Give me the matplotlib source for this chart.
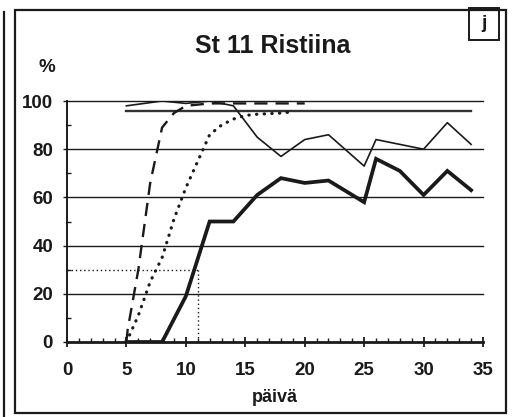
import matplotlib
matplotlib.use("Agg")
import matplotlib.pyplot as plt
from matplotlib.patches import Rectangle
from matplotlib.lines import Line2D
from matplotlib.ticker import MultipleLocator

plt.rcParams['font.family'] = ['Liberation Sans', 'DejaVu Sans']
plt.rcParams['font.weight'] = 'bold'

title = "St 11 Ristiina"
xlabel = "päivä"
ylabel = "%"
panel = "j"

# thick solid series
days_thick = [5, 8, 10, 12, 14, 16, 18, 20, 22, 25, 26, 28, 30, 32, 34]
vals_thick = [0, 0, 19, 50, 50, 61, 68, 66, 67, 58, 76, 71, 61, 71, 63]
# thin solid series
days_thin = [5, 8, 10, 12, 14, 16, 18, 20, 22, 25, 26, 28, 30, 32, 34]
vals_thin = [98, 100, 99, 100, 98, 85, 77, 84, 86, 73, 84, 82, 80, 91, 82]
# dashed series
days_dash = [5, 5.1, 6, 7, 8, 9, 10, 12, 14, 16, 18, 20]
vals_dash = [0, 5, 30, 66, 89, 95, 98, 99, 99, 99, 99, 99]
# dotted series
days_dot = [5, 6, 7, 8, 9, 10, 11, 12, 13, 14, 15, 16, 18, 19]
vals_dot = [0, 11, 25, 35, 51, 64, 75, 86, 90, 92.5, 94, 94.5, 95, 95.5]
# constant reference line
days_ref = [5, 34]
vals_ref = [96, 96]
# 30 % marker
mark_day = 11
mark_val = 30

xticks = [0, 5, 10, 15, 20, 25, 30, 35]
yticks = [0, 20, 40, 60, 80, 100]

W, H = 513, 417
fig = plt.figure(figsize=(W / 100, H / 100), dpi=100)
ax = fig.add_axes([67 / W, 1 - 342 / H, (483 - 67) / W, (342 - 101) / H])

ink = '#1a1a1a'
for yv in yticks[1:]:
    ax.axhline(yv, color=ink, lw=1.0, clip_on=False, zorder=1)

ax.plot(days_ref, vals_ref, color='#333333', lw=1.7, zorder=2)
ax.plot(days_thin, vals_thin, color=ink, lw=1.2, zorder=3)
ax.plot(days_thick, vals_thick, color=ink, lw=2.7, zorder=4, solid_joinstyle='miter')
ax.plot(days_dash, vals_dash, color=ink, lw=1.7, linestyle=(0, (5.6, 3.4)), zorder=3)
ax.plot(days_dot, vals_dot, color=ink, lw=2.3, linestyle=(0, (0.1, 2.3)),
        dash_capstyle='round', zorder=3)
ax.plot([0, mark_day], [mark_val, mark_val], color=ink, lw=1.0,
        linestyle=(0, (1, 2)), zorder=2)
ax.plot([mark_day, mark_day], [0, mark_val], color=ink, lw=1.0,
        linestyle=(0, (1, 2)), zorder=2)

ax.set_xlim(0, 35)
ax.set_ylim(0, 100)
ax.set_xticks(xticks)
ax.set_yticks(yticks)
ax.xaxis.set_minor_locator(MultipleLocator(1))
ax.yaxis.set_minor_locator(MultipleLocator(10))
for s in ['top', 'right']:
    ax.spines[s].set_visible(False)
ax.spines['left'].set_linewidth(1.4)
ax.spines['bottom'].set_linewidth(2.0)
ax.spines['left'].set_color(ink)
ax.spines['bottom'].set_color(ink)
ax.tick_params(axis='x', which='major', direction='inout', length=7, width=1.3,
               pad=11, labelsize=13.5, colors=ink)
ax.tick_params(axis='x', which='minor', direction='in', length=3, width=1.0, colors=ink)
ax.tick_params(axis='y', which='major', direction='out', length=3, width=1.0,
               pad=7, labelsize=13.5, colors=ink)
ax.tick_params(axis='y', which='minor', direction='in', length=3, width=1.0, colors=ink)
for lab in ax.get_xticklabels() + ax.get_yticklabels():
    lab.set_fontweight('bold')

fig.text(275 / W, 1 - 398 / H, xlabel, ha='center', va='center', fontsize=13,
         fontweight='bold', color=ink)
fig.text(47 / W, 1 - 68 / H, ylabel, ha='center', va='center', fontsize=13.5,
         fontweight='bold', color=ink)
fig.text(273 / W, 1 - 46 / H, title, ha='center', va='center', fontsize=18,
         fontweight='bold', color=ink)

# frame
fig.patches.append(Rectangle((15 / W, 1 - 413 / H), (506 - 15) / W, (413 - 10) / H,
                             transform=fig.transFigure, fill=False, lw=1.6,
                             edgecolor=ink))
fig.lines.append(Line2D([4 / W, 4 / W], [0, 1 - 12 / H], transform=fig.transFigure,
                        color=ink, lw=1.6))
# panel letter box
fig.patches.append(Rectangle((469 / W, 1 - 40 / H), 30 / W, 32 / H,
                             transform=fig.transFigure, fill=False, lw=1.4,
                             edgecolor=ink))
fig.text(484 / W, 1 - 24 / H, panel, ha='center', va='center', fontsize=14,
         fontweight='bold', color=ink)

fig.savefig('out.png', dpi=100)
